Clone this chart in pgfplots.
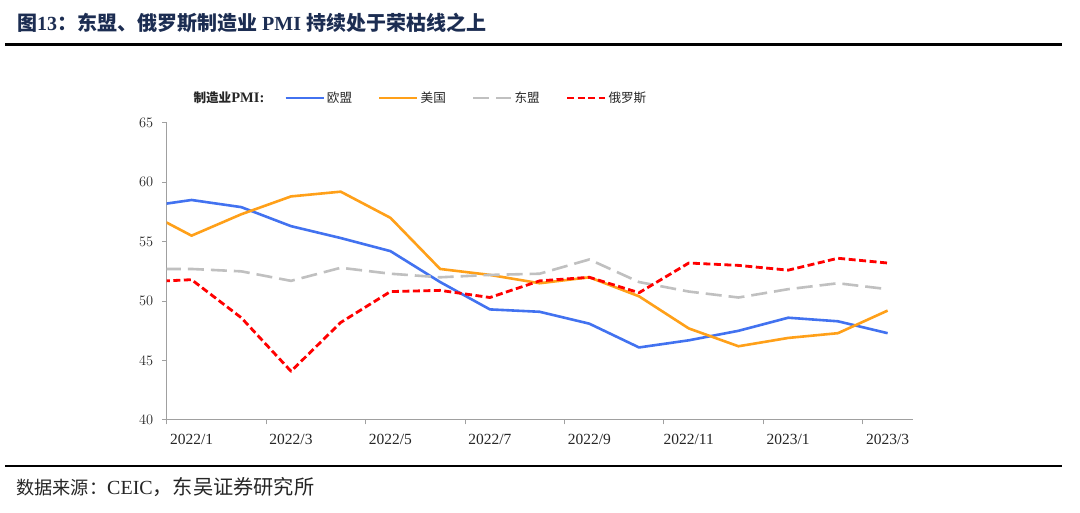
\documentclass[border=0pt]{standalone}
\usepackage{pgfplots}
\pgfplotsset{compat=1.18}
\usepackage{pgfplotstable}
\usepackage{fontspec}
\setmainfont{Liberation Serif}
\newfontfamily\cjk{Noto Sans CJK SC}
\definecolor{cEU}{RGB}{66,114,240}
\definecolor{cUS}{RGB}{255,160,25}
\definecolor{cAS}{RGB}{192,192,192}
\definecolor{cRU}{RGB}{255,0,0}
\definecolor{axisgray}{RGB}{160,160,160}
\definecolor{labelcol}{RGB}{38,38,38}
\definecolor{titleblue}{RGB}{28,45,82}
\newcommand{\lc}[1]{{\fontsize{12.6}{15}\selectfont\cjk #1}}
\pgfplotstableread{
x eu us asean ru
-1 57.9 57.7 52.7 51.6
0 58.5 55.5 52.7 51.8
1 57.9 57.3 52.5 48.6
2 56.3 58.8 51.7 44.1
3 55.3 59.2 52.8 48.2
4 54.2 57.0 52.3 50.8
5 51.6 52.7 52.0 50.9
6 49.3 52.2 52.2 50.3
7 49.1 51.5 52.3 51.7
8 48.1 52.0 53.5 52.0
9 46.1 50.4 51.6 50.7
10 46.7 47.7 50.8 53.2
11 47.5 46.2 50.3 53.0
12 48.6 46.9 51.0 52.6
13 48.3 47.3 51.5 53.6
14 47.3 49.2 51.0 53.2
}\pmidata
\begin{document}
\begin{tikzpicture}
\useasboundingbox (0,0) rectangle (1080pt,513pt);
\fill[white] (0,0) rectangle (1080pt,513pt);
\node[anchor=west, text=titleblue, font=\fontsize{20}{24}\selectfont\bfseries, inner sep=0pt] at (17pt,490pt) {{\cjk 图}13{\cjk ：东盟、俄罗斯制造业} PMI {\cjk 持续处于荣枯线之上}};
\draw[line width=2.5pt] (5pt,468.5pt) -- (1062pt,468.5pt);
\draw[line width=2.5pt] (5pt,47pt) -- (1062pt,47pt);
\node[anchor=west, inner sep=0pt, font=\fontsize{20}{24}\selectfont, text=labelcol] at (16pt,26pt) {{\fontsize{18.2}{22}\selectfont\cjk 数据来源：}CEIC{\fontsize{20.2}{24}\selectfont\cjk ，东吴证券研究所}};
\begin{axis}[
  at={(166.7pt,93pt)}, anchor=south west,
  scale only axis, width=745.8pt, height=297.3pt,
  xmin=-0.5, xmax=14.5, ymin=40, ymax=65,
  axis lines=left,
  axis line style={-, draw=axisgray, line width=1pt},
  ytick={40,45,...,65},
  xtick={-0.5,1.5,...,13.5}, xticklabels={},
  extra x ticks={0,2,...,14},
  extra x tick labels={2022/1,2022/3,2022/5,2022/7,2022/9,2022/11,2023/1,2023/3},
  extra x tick style={major tick length=0pt, grid=none},
  xticklabel style={yshift=-10.5pt},
  yticklabel style={xshift=-5.5pt},
  tick align=outside, major tick length=4.5pt,
  tick style={draw=axisgray, line width=1pt},
  ticklabel style={font=\fontsize{15.5}{18}\selectfont, text=labelcol},
  legend columns=5,
  legend style={at={(0.029,1.083)}, anchor=west, draw=none, fill=none,
    font=\fontsize{14.5}{17}\selectfont, text=labelcol,
    /tikz/every even column/.append style={column sep=24pt}},
  legend image code/.code={\draw[#1] (0pt,0pt) -- (38pt,0pt);},
  every axis plot/.append style={line join=round},
]
\addlegendimage{empty legend}
\addlegendentry{\bfseries\lc{制造业}PMI:\hspace*{-6pt}}
\addplot[cEU, line width=2.6pt] table[x=x,y=eu]{\pmidata};
\addlegendentry{\lc{欧盟}}
\addplot[cUS, line width=2.6pt] table[x=x,y=us]{\pmidata};
\addlegendentry{\lc{美国}}
\addplot[cAS, line width=2.6pt, dash pattern=on 16pt off 7pt] table[x=x,y=asean]{\pmidata};
\addlegendentry{\lc{东盟}}
\addplot[cRU, line width=2.8pt, dash pattern=on 7pt off 3.5pt] table[x=x,y=ru]{\pmidata};
\addlegendentry{\lc{俄罗斯}}
\end{axis}
\end{tikzpicture}
\end{document}
